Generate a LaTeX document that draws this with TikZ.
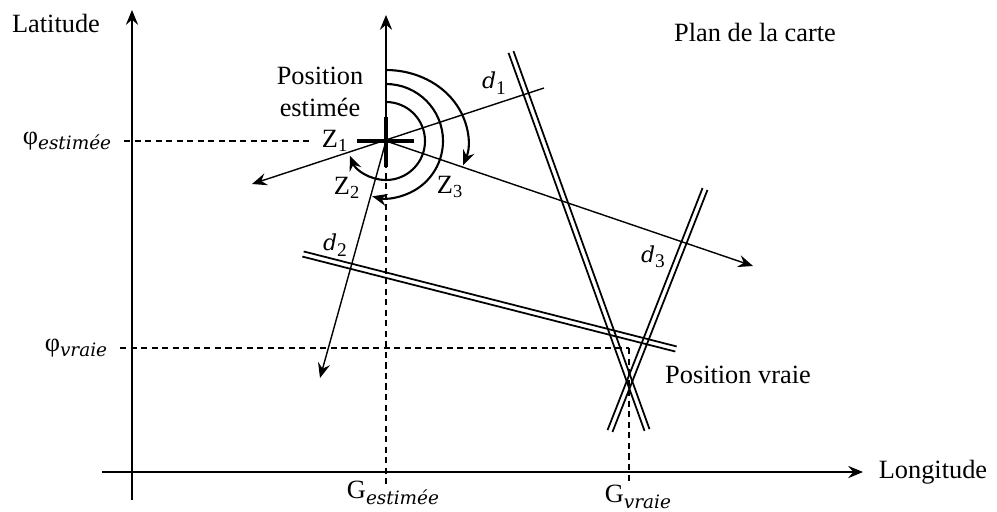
\documentclass[tikz,border=0pt]{standalone}
\usepackage{fontspec}
\setmainfont{Liberation Serif}
\newfontfamily\italfont{DejaVu Serif}
\usetikzlibrary{calc,arrows.meta}
\usetikzlibrary{positioning}

% indice en italique, comme dans les formules
\newcommand\indice[1]{\raisebox{-0.45ex}{\fontsize{10.5}{12}\italfont\itshape #1}}
\newcommand\droitelabel[1]{{\fontsize{12.5}{14}\italfont\itshape d}\raisebox{-0.45ex}{\fontsize{11}{12}\selectfont #1}}
% deux traits paralleles pour une droite de hauteur
\newcommand\droitehauteur[2]{%
\draw[trait] ($(#1)!1.5pt!90:(#2)$) -- ($(#2)!1.5pt!-90:(#1)$);
\draw[trait] ($(#1)!1.5pt!-90:(#2)$) -- ($(#2)!1.5pt!90:(#1)$);}

\begin{document}
\begin{tikzpicture}[x=0.02cm, y=-0.02cm, font=\fontsize{15}{18}\selectfont,
  fleche/.style={-{Stealth[length=8.5pt,width=7pt,inset=3pt]}, line width=0.8pt},
  azimut/.style={-{Stealth[length=8.5pt,width=7pt,inset=3pt]}, line width=1.2pt},
  pointille/.style={dash pattern=on 3.5pt off 2.5pt, line width=0.9pt},
  trait/.style={line width=1pt},
  croix/.style={line width=1.9pt}]
\useasboundingbox (0,0) rectangle (997,511);

% axes
\coordinate (lat0) at (132,500);
\coordinate (lat1) at (132,10);
\coordinate (lon0) at (102,472);
\coordinate (lon1) at (863,472);
\draw[fleche] (lon0) -- (lon1);
\draw[fleche] (lat0) -- (lat1);
\node (latitude) at (56,23) {Latitude};
\node (longitude) at (933,472) {Longitude};
\node (plan) at (755,32) {Plan de la carte};

% position estimee
\coordinate (z) at (386,141);
\coordinate (nord) at (386,15);
\coordinate (pe) at (124,141);
\coordinate (pe1) at (313,141);
\coordinate (ge) at (386,485);
\node (phiest) at (67,141) {φ\indice{estimée}};
\node (gest) at (393,493) {G\indice{estimée}};
\node[align=center] (posest) at (320,92) {Position\\estimée};
\draw[pointille] (pe) -- (pe1);
\draw[pointille] (z) -- (ge);
\draw[fleche] (z) -- (nord);

% relevements
\coordinate (r1a) at (544,88);
\coordinate (r1b) at (252,184);
\coordinate (r2) at (320,378);
\coordinate (r3) at (753,266);
\draw[fleche] (r1a) -- (r1b);
\draw[fleche] (z) -- (r2);
\draw[fleche] (z) -- (r3);
\draw[croix] (z) ++(-29,0) -- ++(57,0);
\draw[croix] (z) ++(0,-24) -- ++(0,50);

% azimuts
\draw[azimut] (z) ++(0,-39) arc[start angle=-90, end angle=158, radius=39];
\draw[azimut] (z) ++(0,-57) arc[start angle=-90, end angle=104, radius=57];
\draw[azimut] (z) ++(0,-71) arc[start angle=-90, end angle=20, x radius=82, y radius=71];
\node (z1) at (335,141) {Z\textsubscript{1}};
\node (z2) at (347,188) {Z\textsubscript{2}};
\node (z3) at (450,187) {Z\textsubscript{3}};

% droites de hauteur
\coordinate (h1a) at (511,52);
\coordinate (h1b) at (647,430);
\coordinate (h2a) at (303,254);
\coordinate (h2b) at (676,349);
\coordinate (h3a) at (705,189);
\coordinate (h3b) at (610,431);
\droitehauteur{h1a}{h1b}
\droitehauteur{h2a}{h2b}
\droitehauteur{h3a}{h3b}
\node (d1) at (494,83) {\droitelabel{1}};
\node (d2) at (335,245) {\droitelabel{2}};
\node (d3) at (653,257) {\droitelabel{3}};

% position vraie
\coordinate (pv) at (120,348);
\coordinate (pv1) at (629,348);
\coordinate (gv) at (629,482);
\draw[pointille] (pv) -- (pv1);
\draw[pointille] (pv1) -- (gv);
\node (phivr) at (76,348) {φ\indice{vraie}};
\node (gvr) at (638,497) {G\indice{vraie}};
\node (posvr) at (738,375) {Position vraie};
\end{tikzpicture}
\end{document}
